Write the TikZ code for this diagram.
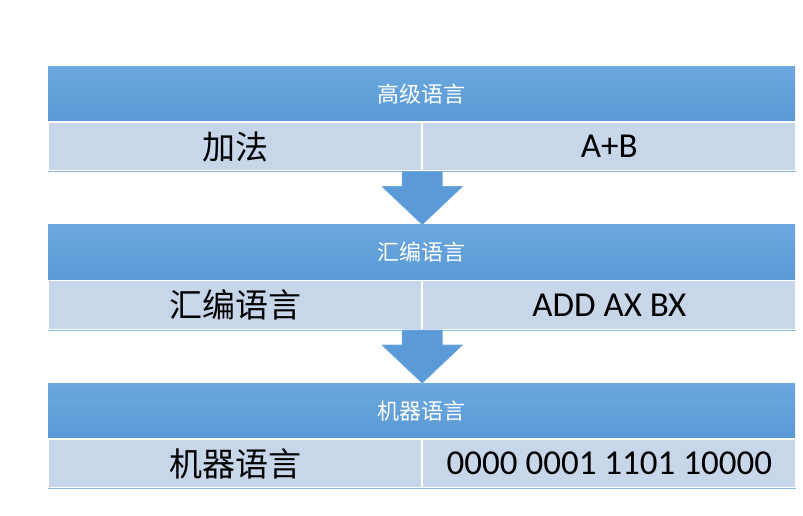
\documentclass[tikz,border=0pt]{standalone}
\usepackage{fontspec}
\setmainfont{Carlito}
\newfontfamily\cjk{Noto Sans CJK SC}
\usetikzlibrary{calc}

\definecolor{barblue}{HTML}{5A9AD6}
\definecolor{barlight}{HTML}{6CA7DE}
\definecolor{cellblue}{HTML}{C8D6EA}

\tikzset{
    bar/.style={top color=barlight, bottom color=barblue, minimum width=747pt,
        minimum height=55pt, anchor=north west, inner sep=0pt, text=white,
        font=\cjk\fontsize{22}{22}\selectfont},
    cell/.style={fill=cellblue, draw=white, line width=1.2pt, minimum width=373pt,
        minimum height=49pt, anchor=north west, inner sep=0pt},
    cjkcell/.style={cell, font=\cjk\fontsize{33}{33}\selectfont},
    codecell/.style={cell, font=\fontsize{35}{35}\selectfont},
    downarrow/.style={fill=barblue, draw=barlight, line width=0.8pt, line join=round}
}

\begin{document}
\begin{tikzpicture}[x=1pt, y=-1pt]
    \useasboundingbox (0,0) rectangle (803,516);

    % the three levels: header bar, then a row of two cells
    \foreach \i/\y/\title/\word/\code in {1/66/高级语言/加法/A+B,
        2/224.5/汇编语言/汇编语言/ADD AX BX,
        3/383/机器语言/机器语言/0000 0001 1101 10000} {
        \node[bar] (head\i) at (48,\y) {\title};
        \node[cjkcell] (word\i) at (head\i.south west) {\word};
        \node[codecell] (code\i) at (word\i.north east) {\code};
        \draw[barblue!70, line width=0.6pt] (word\i.south west) -- (code\i.south east);
    }

    % block arrows from one level down to the next
    \foreach \i/\j in {1/2, 2/3} {
        \coordinate (a\i) at (word\i.south east);
        \coordinate (tip\i) at (head\j.north -| a\i);
        \draw[downarrow] ($(a\i)+(-20,0)$) -- ($(a\i)+(20,0)$) -- ($(a\i)+(20,15)$)
            -- ($(a\i)+(40,15)$) -- (tip\i) -- ($(a\i)+(-40,15)$)
            -- ($(a\i)+(-20,15)$) -- cycle;
    }
\end{tikzpicture}
\end{document}
